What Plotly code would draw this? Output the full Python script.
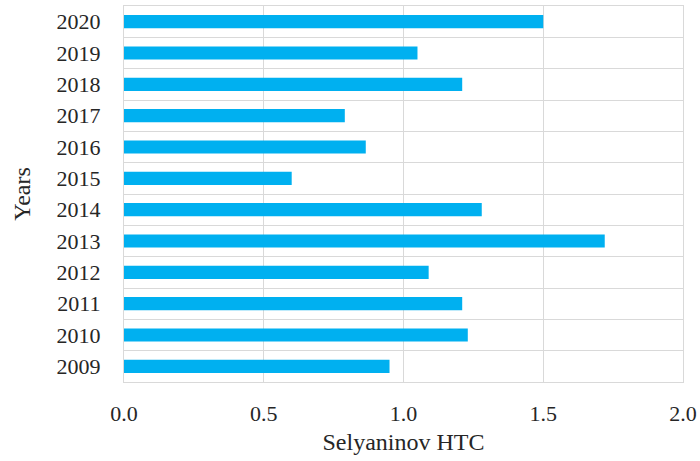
import plotly.graph_objects as go

years = ["2009", "2010", "2011", "2012", "2013", "2014",
         "2015", "2016", "2017", "2018", "2019", "2020"]
htc = [0.95, 1.23, 1.21, 1.09, 1.72, 1.28,
       0.60, 0.865, 0.79, 1.21, 1.05, 1.50]
x_ticks = [0.0, 0.5, 1.0, 1.5, 2.0]
x_tick_text = ["0.0", "0.5", "1.0", "1.5", "2.0"]

grid = "#d9d9d9"
text_color = "#262626"
serif = "Liberation Serif"

fig = go.Figure(
    go.Bar(
        x=htc,
        y=years,
        orientation="h",
        marker=dict(color="#00B0F0", line=dict(width=0)),
        width=0.42,
    )
)

fig.update_layout(
    width=700,
    height=461,
    margin=dict(l=124, r=17, t=6, b=79),
    paper_bgcolor="white",
    plot_bgcolor="white",
    showlegend=False,
    font=dict(family=serif, size=22, color=text_color),
)

fig.update_xaxes(
    range=[0, 2.0],
    tickvals=x_ticks,
    ticktext=x_tick_text,
    showgrid=True,
    gridcolor=grid,
    gridwidth=1.3,
    zeroline=False,
    showline=True,
    linecolor=grid,
    linewidth=1.3,
    mirror=True,
    ticks="",
    ticklabelstandoff=11,
    ticklabeloverflow="allow",
    automargin="height",
    tickfont=dict(family=serif, size=22, color=text_color),
    title=dict(text="Selyaninov HTC",
               font=dict(family=serif, size=24, color=text_color),
               standoff=8),
)

fig.update_yaxes(
    type="category",
    categoryorder="array",
    categoryarray=years,
    tickson="boundaries",
    showgrid=True,
    gridcolor=grid,
    gridwidth=1.3,
    showline=True,
    linecolor=grid,
    linewidth=1.3,
    mirror=True,
    ticks="",
    ticklen=0,
    ticklabelstandoff=18,
    tickfont=dict(family=serif, size=22, color=text_color),
    title=dict(text="Years",
               font=dict(family=serif, size=24, color=text_color),
               standoff=19),
)

fig.write_html("out.html")
